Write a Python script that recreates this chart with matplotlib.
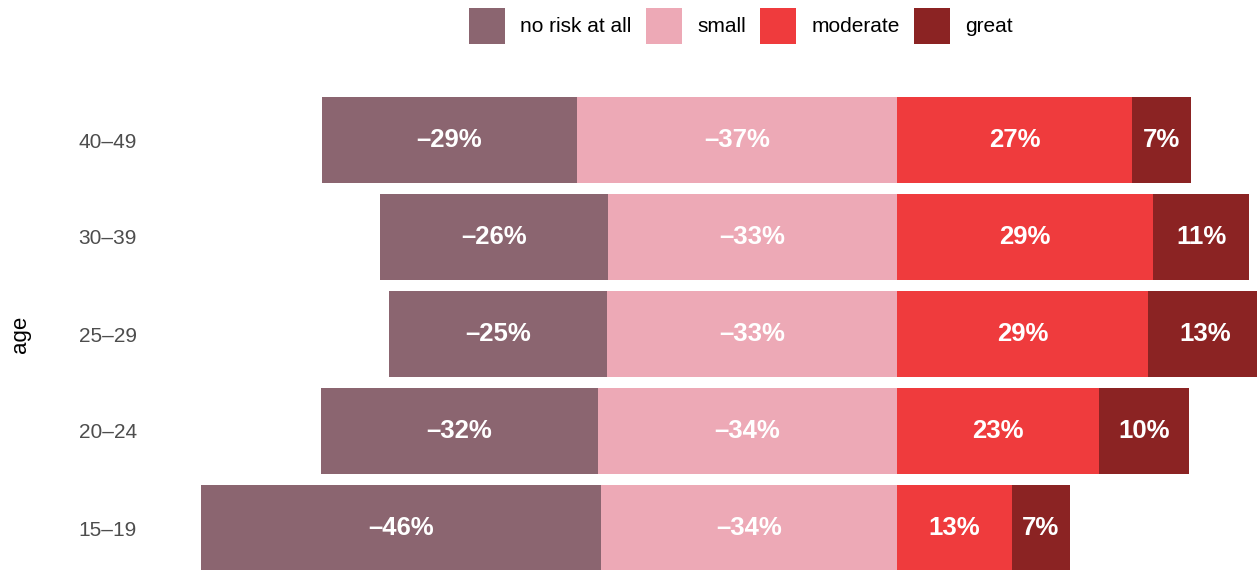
import numpy as np
import matplotlib
matplotlib.use("Agg")
import matplotlib.pyplot as plt

plt.rcParams['font.family'] = ['Liberation Sans', 'DejaVu Sans']

ages = ["15\u201319", "20\u201324", "25\u201329", "30\u201339", "40\u201349"]
no_risk = [46.0, 31.8, 25.1, 26.2, 29.3]
small = [34.0, 34.4, 33.3, 33.2, 36.8]
moderate = [13.2, 23.2, 28.9, 29.4, 27.0]
great = [6.7, 10.4, 13.0, 11.1, 6.8]

labels = ["no risk at all", "small", "moderate", "great"]
colors = ["#8B6570", "#EDA9B6", "#EF3B3D", "#8B2323"]

W, H = 1257, 570
fig = plt.figure(figsize=(W / 100, H / 100), dpi=100)
ax = fig.add_axes([150 / W, 0, 1 - 150 / W, 1])

y = np.arange(1, len(ages) + 1)
nr = np.array(no_risk)
sm = np.array(small)
mo = np.array(moderate)
gr = np.array(great)

segs = [
    (-(nr + sm), nr, -nr),
    (-sm, sm, -sm),
    (np.zeros_like(mo), mo, mo),
    (mo, gr, gr),
]
handles = []
for (left, width, vals), col, lab in zip(segs, colors, labels):
    b = ax.barh(y, width, left=left, height=0.89, color=col, label=lab)
    handles.append(b)
    for yi, l, w, v in zip(y, left, width, vals):
        txt = ("\u2013" if v < 0 else "") + f"{abs(round(v)):.0f}%"
        ax.text(l + w / 2, yi, txt, ha="center", va="center",
                color="white", fontsize=18.5, fontweight="bold")

px = 8.7
ax.set_xlim((150 - 897) / px, (1257 - 897) / px)
top = 5 + 140 / 97
ax.set_ylim(top - 570 / 97, top)
ax.set_yticks(y)
ax.set_yticklabels(ages, fontsize=15, color="#4D4D4D")
ax.set_xticks([])
ax.tick_params(axis="y", length=0, pad=9.5)
for s in ax.spines.values():
    s.set_visible(False)
fig.text(20 / W, 1 - 334 / H, "age", rotation=90, ha="center", va="center",
         fontsize=16)

fig.legend(handles=handles, loc="center", bbox_to_anchor=(741 / W, 1 - 26 / H),
           ncol=4, frameon=False, fontsize=15, handlelength=1.73,
           handleheight=2.3, handletextpad=0.72, columnspacing=0.7,
           borderpad=0)

fig.savefig("out.png", dpi=100)
